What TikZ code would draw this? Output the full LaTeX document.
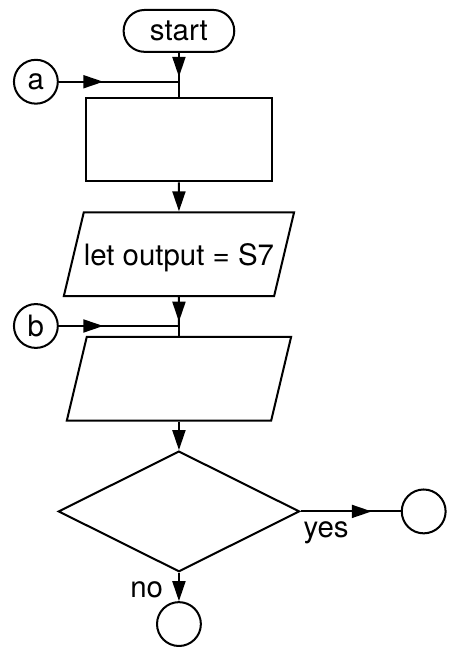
\documentclass[tikz,border=0pt]{standalone}
\usepackage{fontspec}
\setmainfont{TeX Gyre Heros}
\usetikzlibrary{arrows.meta,positioning,shapes,decorations.markings}

\begin{document}
\begin{tikzpicture}[line width=1.15pt]
\tikzstyle{every node}=[font=\fontsize{16.8}{20}\selectfont]
\tikzstyle{terminal}=[draw,rectangle,rounded corners=0.42cm,minimum width=2.22cm,minimum height=0.84cm,inner sep=0pt]
\tikzstyle{process}=[draw,rectangle,minimum width=3.74cm,minimum height=1.68cm]
\tikzstyle{io}=[draw,trapezium,trapezium left angle=76.6,trapezium right angle=103.4,trapezium stretches body,minimum width=4.5cm,text height=0.48cm,text depth=0.04cm,inner xsep=0pt,inner ysep=0.58cm]
\tikzstyle{decision}=[draw,diamond,minimum width=4.84cm,minimum height=2.42cm,inner sep=0pt]
\tikzstyle{connector}=[draw,circle,minimum size=0.88cm,inner sep=0pt]
\tikzstyle{arrow}=[-{Triangle[length=0.4cm,width=0.26cm]}]
\tikzset{midarrow/.style={postaction={decorate},decoration={markings,mark=at position #1 with {\arrow{Triangle[length=0.4cm,width=0.26cm]}}}}}
\node [terminal] at (0,0) (start) {start};
\coordinate [below of=start,node distance=1.02cm] (ja);
\node [connector,left of=ja,node distance=2.87cm] (a) {a};
\node [process,below of=start,node distance=2.18cm] (box1) {};
\node [io,below of=box1,node distance=2.3cm] (out) {let output = S7};
\coordinate [below of=out,node distance=1.44cm] (jb);
\node [connector,left of=jb,node distance=2.87cm] (b) {b};
\node [io,below of=out,node distance=2.5cm] (in) {};
\node [decision,below of=in,node distance=2.66cm] (dec) {};
\node [connector,right of=dec,node distance=4.91cm] (yesc) {};
\node [connector,below of=dec,node distance=2.26cm] (noc) {};

\draw [midarrow=0.83] (start) -- (ja);
\draw (ja) -- (box1);
\draw [midarrow=0.37] (a) -- (ja);
\draw [arrow] (box1) -- (out);
\draw [midarrow=0.85] (out) -- (jb);
\draw (jb) -- (in);
\draw [midarrow=0.37] (b) -- (jb);
\draw [arrow] (in) -- (dec);
\draw [midarrow=0.71] (dec) -- node [pos=0,anchor=north west,inner sep=0pt,xshift=0.04cm,yshift=-0.175cm] (yes) {yes} (yesc);
\draw [arrow] (dec) -- node [pos=0.6,left=0.3cm,inner sep=0pt] (no) {no} (noc);
\useasboundingbox (-3.59,0.62) rectangle (5.47,-12.32);
\end{tikzpicture}
\end{document}
